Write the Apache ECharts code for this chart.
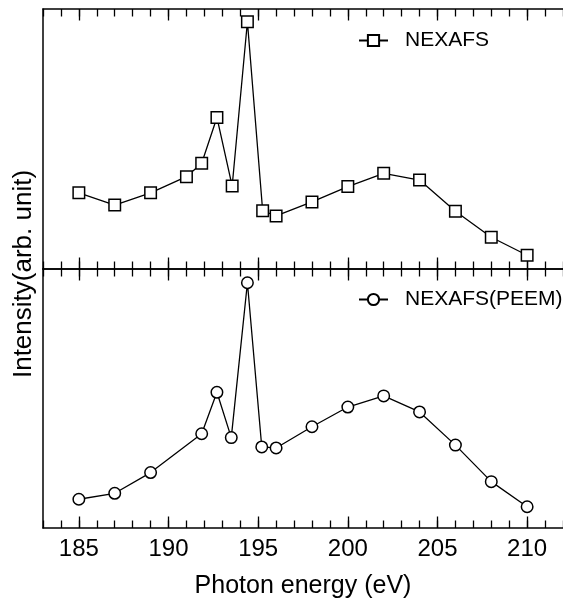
<!DOCTYPE html>
<html>
<head>
<meta charset="utf-8">
<script src="https://cdn.jsdelivr.net/npm/echarts@6/dist/echarts.min.js"></script>
<style>
html,body{margin:0;padding:0;background:#fff;}
#chart{width:563px;height:603px;}
</style>
</head>
<body>
<div id="chart"></div>
<script>
// ---- data ----
const nexafsEnergy = [185, 187, 189, 191, 191.85, 192.7, 193.55, 194.4, 195.25, 196, 198, 200, 202, 204, 206, 208, 210];
const nexafsIntensity = [29.3, 24.6, 29.3, 35.5, 40.7, 58.3, 31.9, 95.1, 22.4, 20.4, 25.8, 31.7, 36.8, 34.2, 22.2, 12.2, 5.3];
const peemEnergy = [185, 187, 189, 191.85, 192.7, 193.5, 194.4, 195.2, 196, 198, 200, 202, 204, 206, 208, 210];
const peemIntensity = [11.1, 13.4, 21.4, 36.4, 52.4, 34.9, 94.7, 31.3, 30.9, 39.1, 46.7, 51.0, 44.8, 32.0, 17.9, 8.2];
const majorTicks = [185, 190, 195, 200, 205, 210];
const seriesNames = ['NEXAFS', 'NEXAFS(PEEM)'];
const xAxisTitle = 'Photon energy (eV)';
const yAxisTitle = 'Intensity(arb. unit)';

const FONT = '"Liberation Sans", Arial, sans-serif';
const X_MIN = 183, X_MAX = 212;
const axisLineStyle = { show: true, lineStyle: { color: '#000', width: 1.5 } };

function minorAxis(grid, pos) {
  return {
    type: 'value', gridIndex: grid, position: pos, min: X_MIN, max: X_MAX, interval: 1,
    axisLine: axisLineStyle,
    axisTick: { show: true, inside: true, length: 7.5, lineStyle: { color: '#000', width: 1.3 } },
    axisLabel: { show: false }, splitLine: { show: false }
  };
}
function majorAxis(grid, pos, labels) {
  return {
    type: 'value', gridIndex: grid, position: pos, min: X_MIN, max: X_MAX,
    axisLine: { show: false },
    axisTick: { show: true, inside: true, length: 11.5, customValues: majorTicks, lineStyle: { color: '#000', width: 1.3 } },
    axisLabel: labels ? { show: true, customValues: majorTicks, color: '#000', fontSize: 24, fontFamily: FONT, margin: 9 } : { show: false },
    splitLine: { show: false },
    name: labels ? xAxisTitle : '',
    nameLocation: 'middle', nameGap: 46,
    nameTextStyle: { color: '#000', fontSize: 25, fontFamily: FONT }
  };
}
function yAx(grid) {
  return {
    type: 'value', gridIndex: grid, min: 0, max: 100,
    axisLine: axisLineStyle, axisTick: { show: false }, axisLabel: { show: false }, splitLine: { show: false }
  };
}
const seriesStyle = {
  type: 'line', symbolSize: 11.5, showSymbol: true,
  lineStyle: { color: '#000', width: 1.3 },
  itemStyle: { color: '#fff', borderColor: '#000', borderWidth: 1.5 },
  emphasis: { disabled: true }, animation: false
};
function legend(name, top) {
  return {
    data: [name], left: 358, top: top, padding: 0, itemWidth: 29, itemHeight: 14, selectedMode: false,
    textStyle: { color: '#000', fontSize: 21, fontFamily: FONT, padding: [0, 0, 0, 12] }
  };
}

const chart = echarts.init(document.getElementById('chart'), null, { renderer: 'canvas' });
chart.setOption({
  animation: false,
  backgroundColor: '#fff',
  grid: [
    { left: 43, right: -2, top: 9, height: 260 },
    { left: 43, right: -2, top: 269, height: 259 }
  ],
  xAxis: [
    minorAxis(0, 'bottom'), majorAxis(0, 'bottom', false),
    minorAxis(0, 'top'), majorAxis(0, 'top', false),
    minorAxis(1, 'bottom'), majorAxis(1, 'bottom', true),
    minorAxis(1, 'top'), majorAxis(1, 'top', false)
  ],
  yAxis: [yAx(0), yAx(1)],
  legend: [legend(seriesNames[0], 30), legend(seriesNames[1], 289)],
  series: [
    Object.assign({}, seriesStyle, { name: seriesNames[0], symbol: 'rect', xAxisIndex: 0, yAxisIndex: 0,
      data: nexafsEnergy.map((e, i) => [e, nexafsIntensity[i]]) }),
    Object.assign({}, seriesStyle, { name: seriesNames[1], symbol: 'circle', xAxisIndex: 4, yAxisIndex: 1,
      data: peemEnergy.map((e, i) => [e, peemIntensity[i]]) })
  ],
  graphic: [{
    type: 'text', x: 24, y: 274, rotation: Math.PI / 2,
    style: { text: yAxisTitle, fill: '#000', font: '26px ' + FONT, align: 'center', verticalAlign: 'middle' }
  }]
});
</script>
</body>
</html>
